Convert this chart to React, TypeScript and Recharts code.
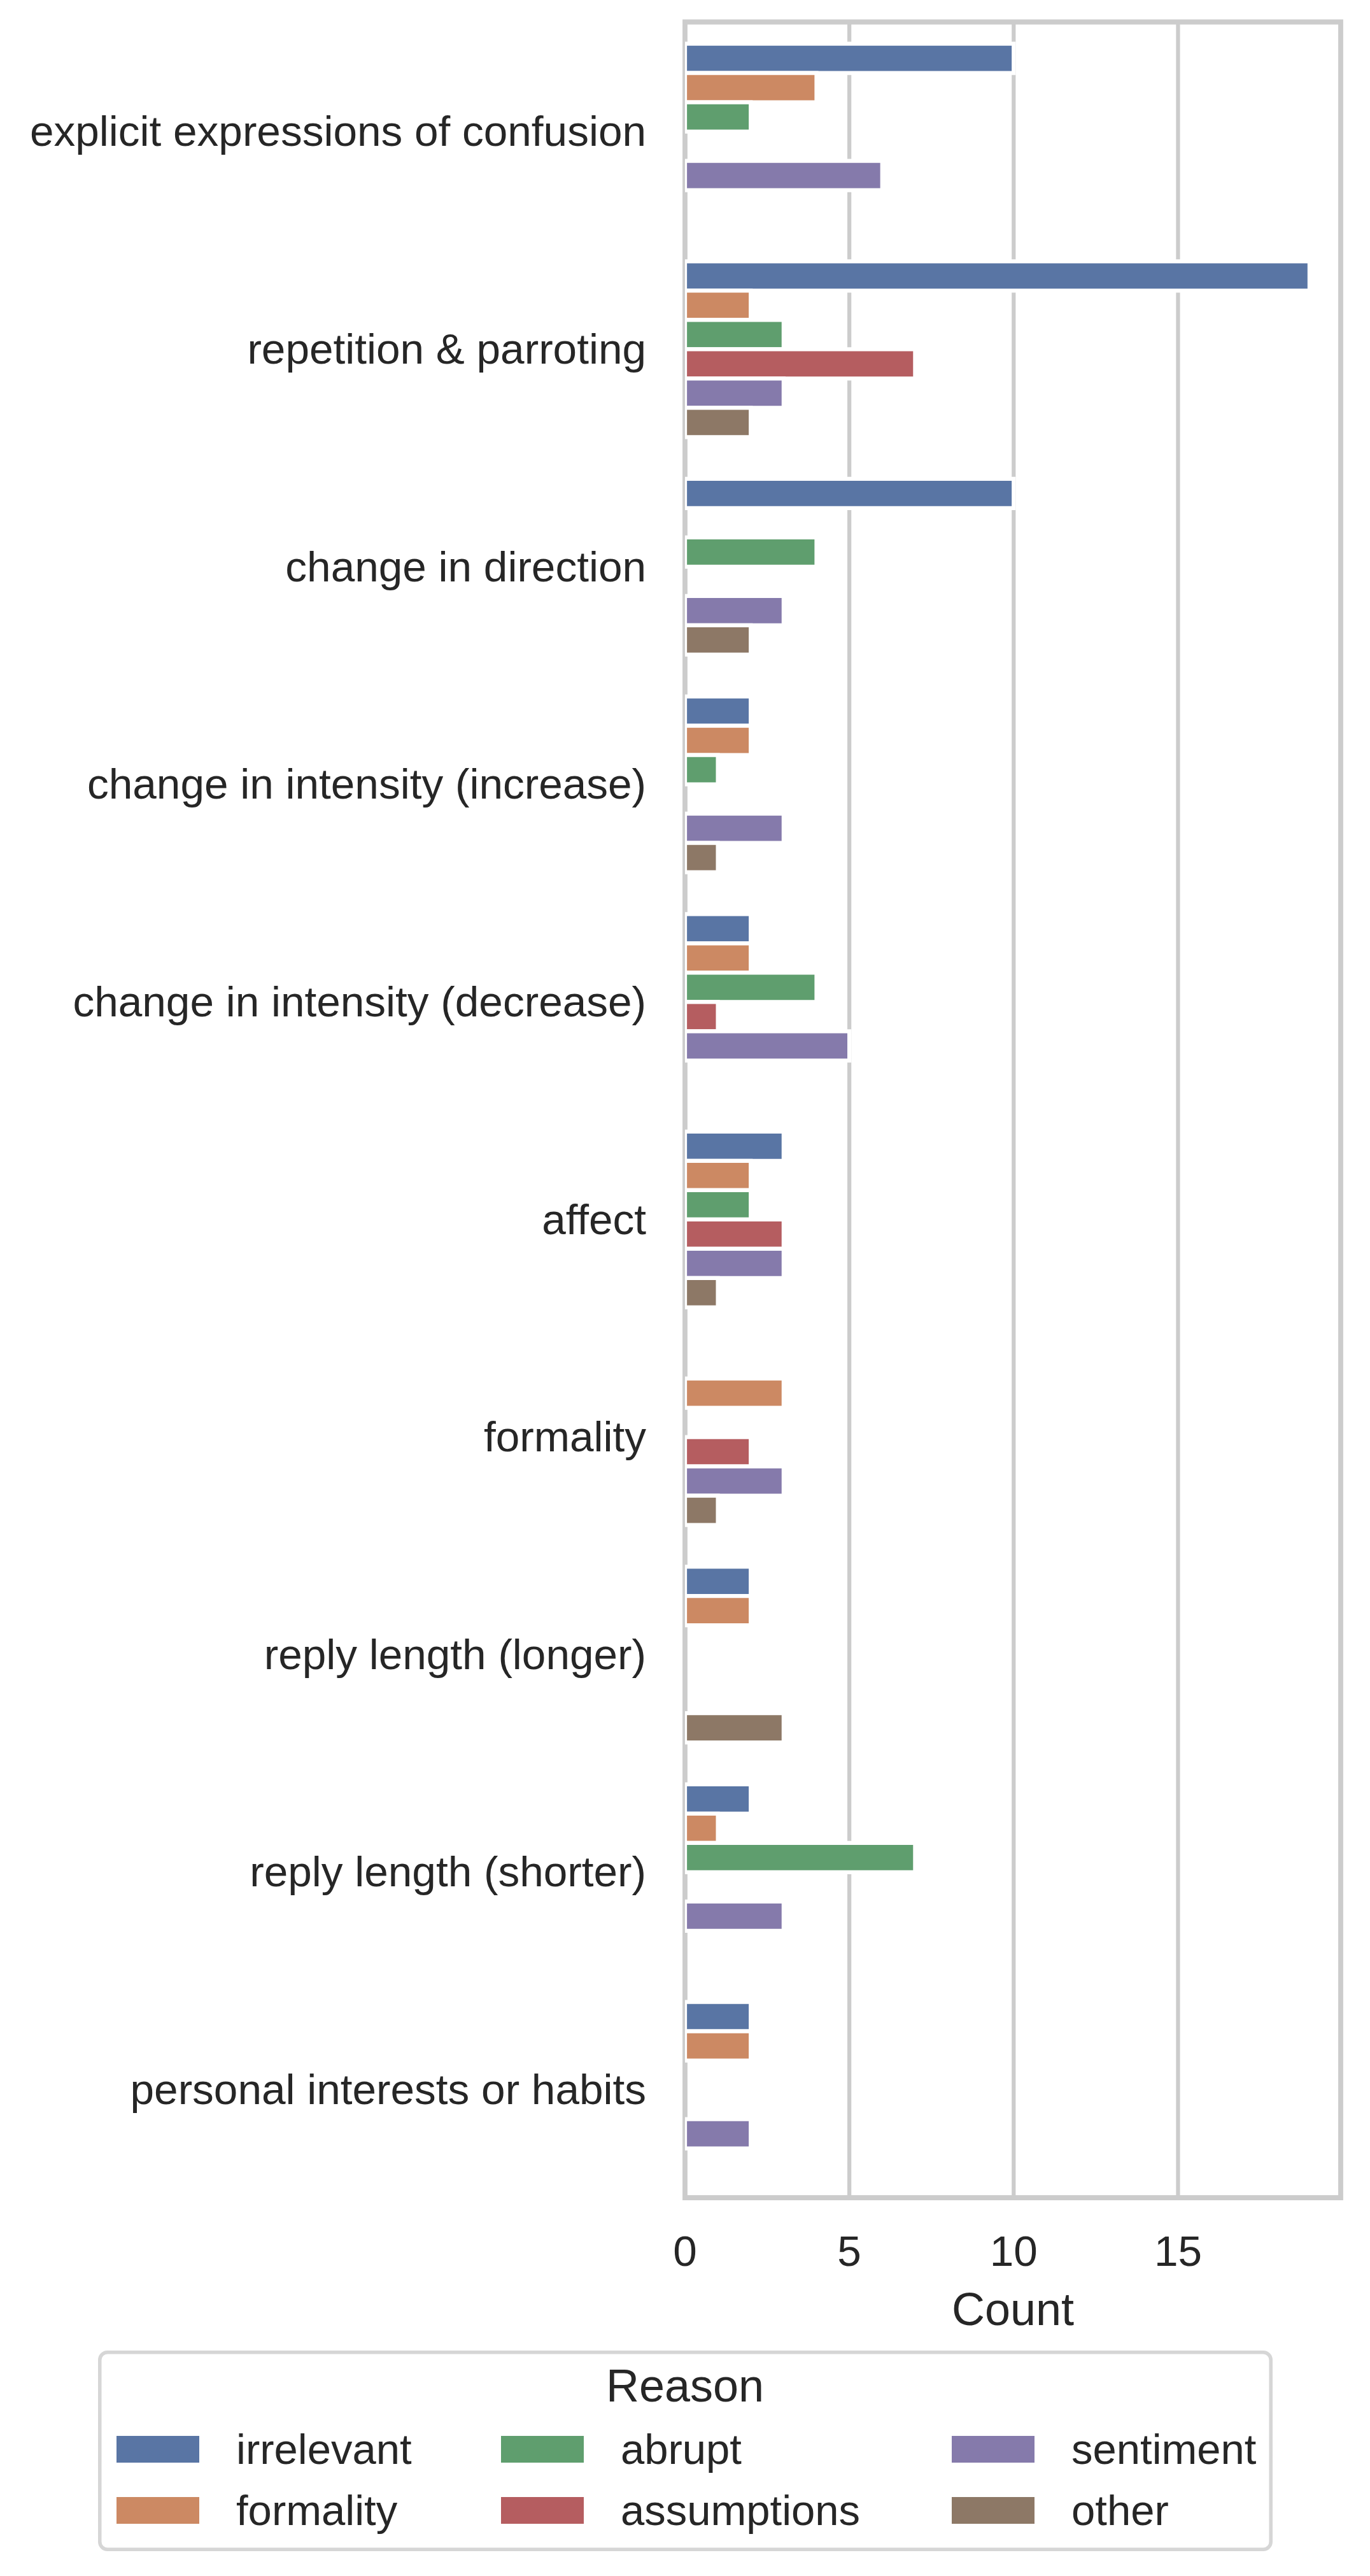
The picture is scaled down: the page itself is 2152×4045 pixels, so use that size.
import React from "react";
import {
  Bar,
  BarChart,
  CartesianGrid,
  Legend,
  ReferenceArea,
  XAxis,
  YAxis,
} from "recharts";

const categories = [
  "explicit expressions of confusion",
  "repetition & parroting",
  "change in direction",
  "change in intensity (increase)",
  "change in intensity (decrease)",
  "affect",
  "formality",
  "reply length (longer)",
  "reply length (shorter)",
  "personal interests or habits",
];

const irrelevant = [10, 19, 10, 2, 2, 3, 0, 2, 2, 2];
const formality = [4, 2, 0, 2, 2, 2, 3, 2, 1, 2];
const abrupt = [2, 3, 4, 1, 4, 2, 0, 0, 7, 0];
const assumptions = [0, 7, 0, 0, 1, 3, 2, 0, 0, 0];
const sentiment = [6, 3, 3, 3, 5, 3, 3, 0, 3, 2];
const other = [0, 2, 2, 1, 0, 1, 1, 3, 0, 0];

const xTicks = [0, 5, 10, 15];
const xMax = 19.95;

const series = [
  { key: "irrelevant", values: irrelevant, color: "#5975a4" },
  { key: "formality", values: formality, color: "#cc8963" },
  { key: "abrupt", values: abrupt, color: "#5f9e6e" },
  { key: "assumptions", values: assumptions, color: "#b55d60" },
  { key: "sentiment", values: sentiment, color: "#857aab" },
  { key: "other", values: other, color: "#8d7866" },
];

const data = categories.map((name, i) => {
  const row: Record<string, string | number> = { name };
  series.forEach((s) => {
    row[s.key] = s.values[i];
  });
  return row;
});

const TEXT = "#262626";
const FONT = '"Liberation Sans", Arial, Helvetica, sans-serif';

// legend columns (left edge of colour swatch), two rows each
const legendCols = [29, 633, 1341];
const legendRows = [134, 230];

function ReasonLegend() {
  return (
    <svg width={1845} height={315} style={{ display: "block" }}>
      <rect
        x={2.75}
        y={2.75}
        width={1839.5}
        height={309.5}
        rx={12}
        fill="#ffffff"
        stroke="#d6d6d6"
        strokeWidth={5.5}
      />
      <text x={922} y={80} textAnchor="middle" fontSize={72} fill={TEXT} fontFamily={FONT}>
        Reason
      </text>
      {series.map((s, i) => {
        const px = legendCols[Math.floor(i / 2)];
        const py = legendRows[i % 2];
        return (
          <g key={s.key}>
            <rect x={px} y={py} width={130} height={42} fill={s.color} />
            <text x={px + 188} y={py + 44} fontSize={67} fill={TEXT} fontFamily={FONT}>
              {s.key}
            </text>
          </g>
        );
      })}
    </svg>
  );
}

export default function App() {
  return (
    <div
      style={{
        position: "absolute",
        left: 0,
        top: 0,
        width: 2152,
        height: 4045,
        background: "#ffffff",
        fontFamily: FONT,
      }}
    >
      <BarChart
        width={2152}
        height={4045}
        data={data}
        layout="vertical"
        margin={{ top: 34.5, right: 46, left: 0, bottom: 394 }}
        barCategoryGap="10%"
        barGap={0}
      >
        <CartesianGrid horizontal={false} stroke="#cccccc" strokeWidth={6.25} />
        <XAxis
          type="number"
          domain={[0, xMax]}
          ticks={xTicks}
          allowDataOverflow
          tickLine={false}
          axisLine={false}
          tickSize={0}
          tickMargin={59}
          height={200}
          tick={{ fontSize: 67.5, fill: TEXT, fontFamily: FONT }}
          label={{
            value: "Count",
            position: "insideBottom",
            offset: 0,
            fontSize: 72,
            fill: TEXT,
            fontFamily: FONT,
          }}
        />
        <YAxis
          type="category"
          dataKey="name"
          width={1076}
          interval={0}
          tickLine={false}
          axisLine={false}
          tickSize={0}
          tickMargin={61}
          tick={{ fontSize: 67.5, fill: TEXT, fontFamily: FONT }}
        />
        {series.map((s) => (
          <Bar
            key={s.key}
            dataKey={s.key}
            name={s.key}
            fill={s.color}
            stroke="#ffffff"
            strokeWidth={6.25}
            isAnimationActive={false}
          />
        ))}
        <ReferenceArea
          x1={0}
          x2={xMax}
          fill="none"
          fillOpacity={0}
          stroke="#cccccc"
          strokeWidth={7.8}
          ifOverflow="visible"
        />
        <Legend
          verticalAlign="middle"
          align="center"
          layout="horizontal"
          content={() => <ReasonLegend />}
          wrapperStyle={{ left: 154, top: 3691, width: 1845, height: 315 }}
        />
      </BarChart>
    </div>
  );
}
